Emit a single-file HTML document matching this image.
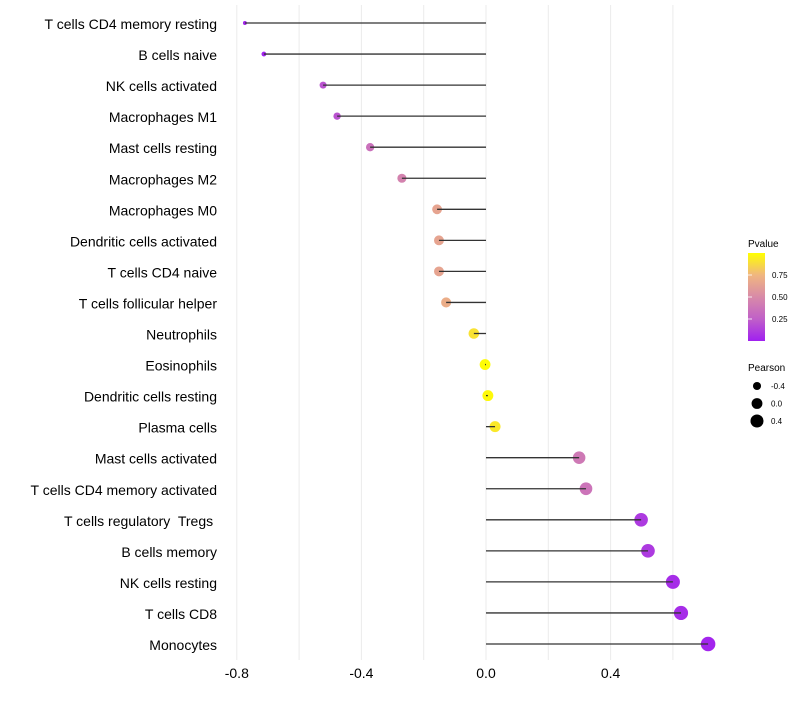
<!DOCTYPE html>
<html><head><meta charset="utf-8"><style>
body{margin:0;background:#fff;font-family:"Liberation Sans",sans-serif}
svg text{font-family:"Liberation Sans",sans-serif;white-space:pre}
</style></head><body>
<svg id="c" width="800" height="700">
<defs><linearGradient id="g" x1="0" y1="1" x2="0" y2="0">
<stop offset="0" stop-color="#a020f0"/><stop offset="0.25" stop-color="#c060c8"/><stop offset="0.5" stop-color="#d88aa8"/><stop offset="0.75" stop-color="#f0b680"/><stop offset="1" stop-color="#ffff00"/></linearGradient></defs>
</svg>
<script>
const categories=["T cells CD4 memory resting","B cells naive","NK cells activated","Macrophages M1","Mast cells resting","Macrophages M2","Macrophages M0","Dendritic cells activated","T cells CD4 naive","T cells follicular helper","Neutrophils","Eosinophils","Dendritic cells resting","Plasma cells","Mast cells activated","T cells CD4 memory activated","T cells regulatory  Tregs ","B cells memory","NK cells resting","T cells CD8","Monocytes"];
const pearson=[-0.774,-0.713,-0.523,-0.478,-0.372,-0.270,-0.157,-0.151,-0.151,-0.128,-0.039,-0.003,0.006,0.029,0.299,0.321,0.498,0.520,0.600,0.626,0.713];
const pvalue=[0.02,0.01,0.2,0.2,0.35,0.45,0.65,0.65,0.65,0.7,0.9,0.99,0.98,0.92,0.4,0.37,0.1,0.1,0.05,0.05,0.02];
const xTicks=[-0.8,-0.4,0.0,0.4];
const gridVals=[-0.8,-0.6,-0.4,-0.2,0,0.2,0.4,0.6];
const pTicks=[0.25,0.5,0.75];
const sizeTicks=[-0.4,0.0,0.4];
const NS="http://www.w3.org/2000/svg",svg=document.getElementById('c');
const x=v=>486+v*311.5, y=i=>23+i*31.05;
const rad=v=>Math.sqrt(Math.max(2,4+(v+0.77)*33));
const stops=[[0,[160,32,240]],[0.25,[192,96,200]],[0.5,[216,138,168]],[0.75,[240,182,128]],[1,[255,255,0]]];
function col(p){for(let k=1;k<stops.length;k++){if(p<=stops[k][0]){const a=stops[k-1],b=stops[k],t=(p-a[0])/(b[0]-a[0]);return 'rgb('+a[1].map((c,j)=>Math.round(c+(b[1][j]-c)*t)).join(',')+')';}}return 'rgb(255,255,0)';}
function el(t,a,txt){const e=document.createElementNS(NS,t);for(const k in a)e.setAttribute(k,a[k]);if(txt!=null)e.textContent=txt;svg.appendChild(e);return e;}
gridVals.forEach(v=>{const e=el('line',{x1:x(v),x2:x(v),y1:5,y2:660,stroke:'#ebebeb','stroke-width':1});

});
xTicks.forEach(v=>{const e=el('text',{x:x(v),y:678,'text-anchor':'middle','font-size':14,fill:'#000'},v.toFixed(1));

});
categories.forEach((c,i)=>{
const t=el('text',{x:217,y:y(i)+6,'text-anchor':'end','font-size':14,fill:'#000'},c);


const p=el('circle',{cx:x(pearson[i]),cy:y(i),r:rad(pearson[i]),fill:col(pvalue[i])});


const l=el('line',{x1:x(0),x2:x(pearson[i]),y1:y(i),y2:y(i),stroke:'#333','stroke-width':1.3});


});
let e=el('text',{x:748,y:247,'font-size':10,fill:'#000'},'Pvalue');


e=el('rect',{x:748,y:253,width:17,height:88,fill:'url(#g)'});


pTicks.forEach(p=>{const yy=341-p*88;
const tk=el('line',{x1:748,x2:752,y1:yy,y2:yy,stroke:'#fff','stroke-width':0.8});


const t=el('text',{x:772,y:yy+3,'font-size':8,fill:'#000'},p.toFixed(2));

});
e=el('text',{x:748,y:371,'font-size':10,fill:'#000'},'Pearson');


sizeTicks.forEach((v,k)=>{const yy=386+k*17.5;
const c=el('circle',{cx:757,cy:yy,r:rad(v),fill:'#000'});


const t=el('text',{x:771,y:yy+3,'font-size':8,fill:'#000'},v.toFixed(1));

});
</script>
</body></html>
